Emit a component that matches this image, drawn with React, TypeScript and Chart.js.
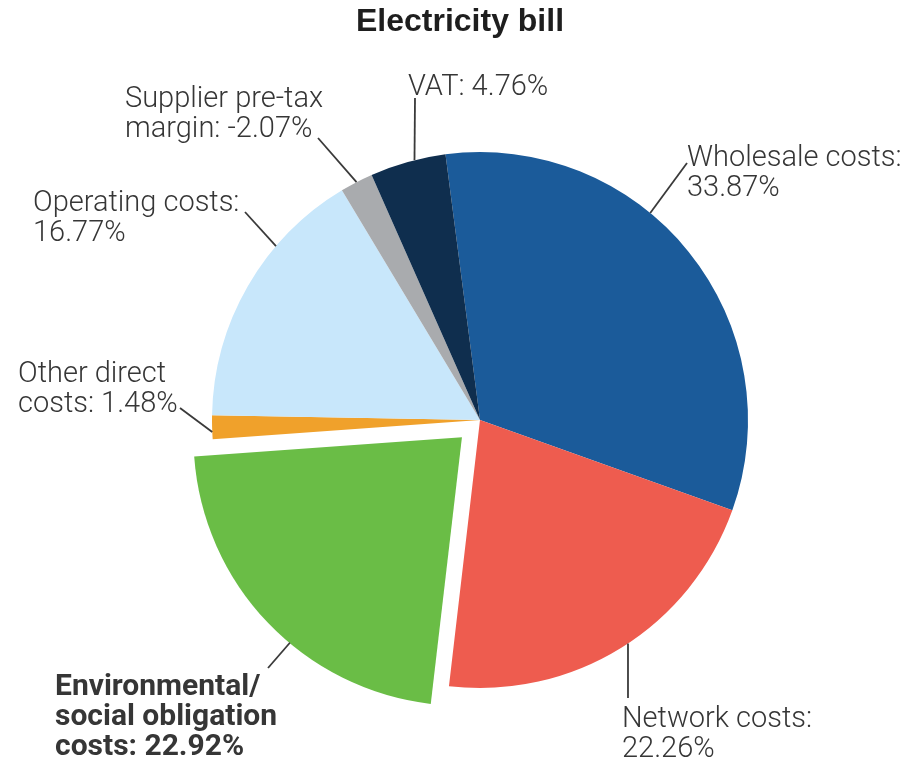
import React, { useEffect, useRef } from "react";
import { Chart, registerables } from "chart.js";

Chart.register(...registerables);

// ---- data ----
const TITLE = "Electricity bill";
const categories = [
  "Wholesale costs",
  "Network costs",
  "Environmental/\nsocial obligation\ncosts",
  "Other direct\ncosts",
  "Operating costs",
  "Supplier pre-tax\nmargin",
  "VAT",
];
const shares = [33.87, 22.26, 22.92, 1.48, 16.77, -2.07, 4.76];
const colors = ["#1b5b9a", "#ee5c4f", "#6abd46", "#f0a12b", "#c8e7fb", "#a9abae", "#0f2e4e"];
// Chart.js translates an arc by offset/4
const offsets = [0, 0, 100, 0, 0, 0, 0];

// ---- label layout ----
const TEXT_COLOR = "#363636";
const labelLayout = [
  { x: 687, y: 166, valueOwnLine: true, bold: false, lineEnd: [687, 163], frac: 0.4 },
  { x: 622, y: 727, valueOwnLine: true, bold: false, lineEnd: [628, 698], frac: 0.478 },
  { x: 55, y: 695, valueOwnLine: false, bold: true, lineEnd: [268, 668], frac: 0.42 },
  { x: 18, y: 382, valueOwnLine: false, bold: false, lineEnd: [180, 408], frac: 0.3 },
  { x: 33, y: 211, valueOwnLine: true, bold: false, lineEnd: [245, 212], frac: 0.68 },
  { x: 125, y: 107, valueOwnLine: false, bold: false, lineEnd: [318, 138], frac: 0.5 },
  { x: 408, y: 95, valueOwnLine: false, bold: false, lineEnd: [415, 98], frac: 0.59 },
];
const LINE_H = 30;
const REG_FONT = "300 29px Roboto";
const BOLD_FONT = "700 30px Roboto";

function labelLines(i: number): string[] {
  const v = shares[i].toFixed(2) + "%";
  const parts = categories[i].split("\n");
  if (labelLayout[i].valueOwnLine) {
    parts[parts.length - 1] += ":";
    parts.push(v);
  } else {
    parts[parts.length - 1] += ": " + v;
  }
  return parts;
}

const labelsPlugin = {
  id: "pieLabels",
  afterDraw(chart: any) {
    const ctx = chart.ctx as CanvasRenderingContext2D;
    ctx.save();
    // title
    ctx.fillStyle = "#1e1e1e";
    ctx.font = "700 32px 'Liberation Sans'";
    ctx.textAlign = "center";
    ctx.textBaseline = "alphabetic";
    ctx.fillText(TITLE, 460, 31);

    const meta = chart.getDatasetMeta(0);
    meta.data.forEach((arc: any, i: number) => {
      const L = labelLayout[i];
      const { x, y, startAngle, endAngle, outerRadius } = arc.getProps(
        ["x", "y", "startAngle", "endAngle", "outerRadius"],
        true
      );
      const off = offsets[i] / 4;
      const mid = (startAngle + endAngle) / 2;
      const cx = x + Math.cos(mid) * off;
      const cy = y + Math.sin(mid) * off;
      const a = startAngle + (endAngle - startAngle) * L.frac;
      const px = cx + Math.cos(a) * outerRadius;
      const py = cy + Math.sin(a) * outerRadius;
      ctx.strokeStyle = "#3a3a3a";
      ctx.lineWidth = 1.8;
      ctx.beginPath();
      ctx.moveTo(px, py);
      ctx.lineTo(L.lineEnd[0], L.lineEnd[1]);
      ctx.stroke();

      ctx.fillStyle = TEXT_COLOR;
      ctx.textAlign = "left";
      ctx.font = L.bold ? BOLD_FONT : REG_FONT;
      labelLines(i).forEach((t, k) => {
        ctx.fillText(t, L.x, L.y + k * LINE_H);
      });
    });
    ctx.restore();
  },
};

export default function App() {
  const ref = useRef<HTMLCanvasElement>(null);
  useEffect(() => {
    const chart = new Chart(ref.current!, {
      type: "pie",
      data: {
        labels: categories.map((c) => c.replace(/\n/g, " ")),
        datasets: [
          {
            data: shares.map((v) => Math.abs(v)),
            backgroundColor: colors,
            borderWidth: 0,
            offset: offsets,
          },
        ],
      },
      options: {
        responsive: false,
        animation: false,
        devicePixelRatio: 1,
        rotation: -7.4,
        radius: 268,
        layout: { padding: { left: 200, right: 145, top: 150, bottom: 73 } },
        plugins: {
          legend: { display: false },
          tooltip: { enabled: false },
          title: { display: false },
        },
      },
      plugins: [labelsPlugin],
    });
    return () => chart.destroy();
  }, []);
  return (
    <div style={{ position: "fixed", left: 0, top: 0, width: 905, height: 763, background: "#fff" }}>
      <canvas ref={ref} width={905} height={763} style={{ width: 905, height: 763 }} />
    </div>
  );
}
